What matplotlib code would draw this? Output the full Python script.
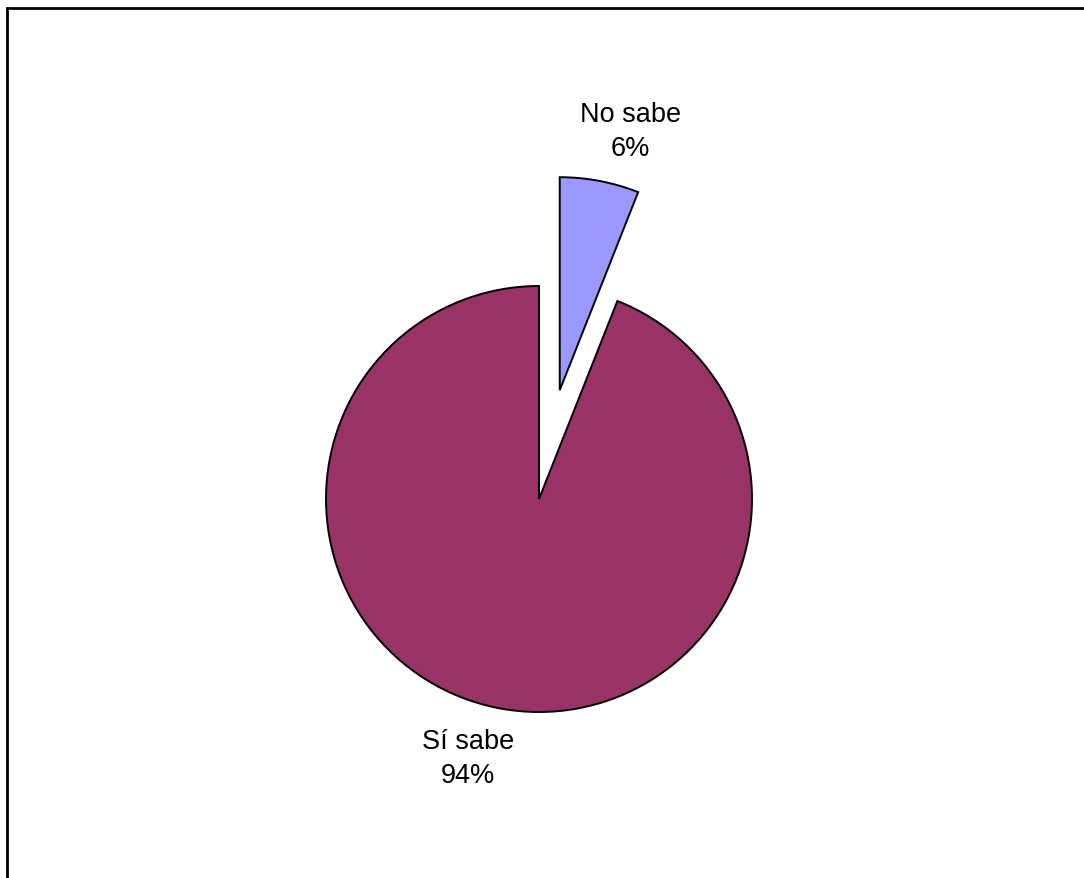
import numpy as np
import matplotlib.pyplot as plt
from matplotlib.patches import Rectangle

# Données
etiquettes = ['No sabe', 'Sí sabe']
valeurs = [6, 94]
couleurs = ['#9999FF', '#993366']
eclatement = [0.52, 0.0]

W, H = 1084, 879
rayon_px = 213.0
centre_px = (539.0, 500.0)

fig = plt.figure(figsize=(W / 100, H / 100), dpi=100)
fig.patch.set_facecolor('white')
ax = fig.add_axes([0, 0, 1, 1])

wedges, _ = ax.pie(valeurs, colors=couleurs, explode=eclatement,
                   startangle=90, counterclock=False,
                   wedgeprops=dict(edgecolor='black', linewidth=1.4))

# Étiquettes (nom + pourcentage), placées autour de chaque secteur
total = float(sum(valeurs))
debut = 0.0
for lab, v, ex in zip(etiquettes, valeurs, eclatement):
    milieu = debut + v / total * 360.0 / 2
    debut += v / total * 360.0
    a_cen = np.deg2rad(90 - milieu)
    a_lab = np.deg2rad(90 - milieu - 4.5)
    cx, cy = ex * np.cos(a_cen), ex * np.sin(a_cen)
    x = cx + 1.26 * np.cos(a_lab)
    y = cy + 1.26 * np.sin(a_lab)
    ax.text(x, y, f'{lab}\n{v:.0f}%', ha='center', va='center',
            fontsize=19.5, family=['Liberation Sans', 'DejaVu Sans'],
            linespacing=1.4, color='black')

ax.set_aspect('auto')
ax.set_xlim(-centre_px[0] / rayon_px, (W - centre_px[0]) / rayon_px)
ax.set_ylim(-(H - centre_px[1]) / rayon_px, centre_px[1] / rayon_px)
ax.axis('off')

# Cadre (coupé à droite et en bas)
cadre = Rectangle((7 / W, -0.1), 1.2, 1 - 9 / H + 0.1, transform=fig.transFigure,
                  fill=False, edgecolor='black', linewidth=2.0, clip_on=False)
fig.add_artist(cadre)

fig.savefig('out.png', dpi=100, facecolor='white')
